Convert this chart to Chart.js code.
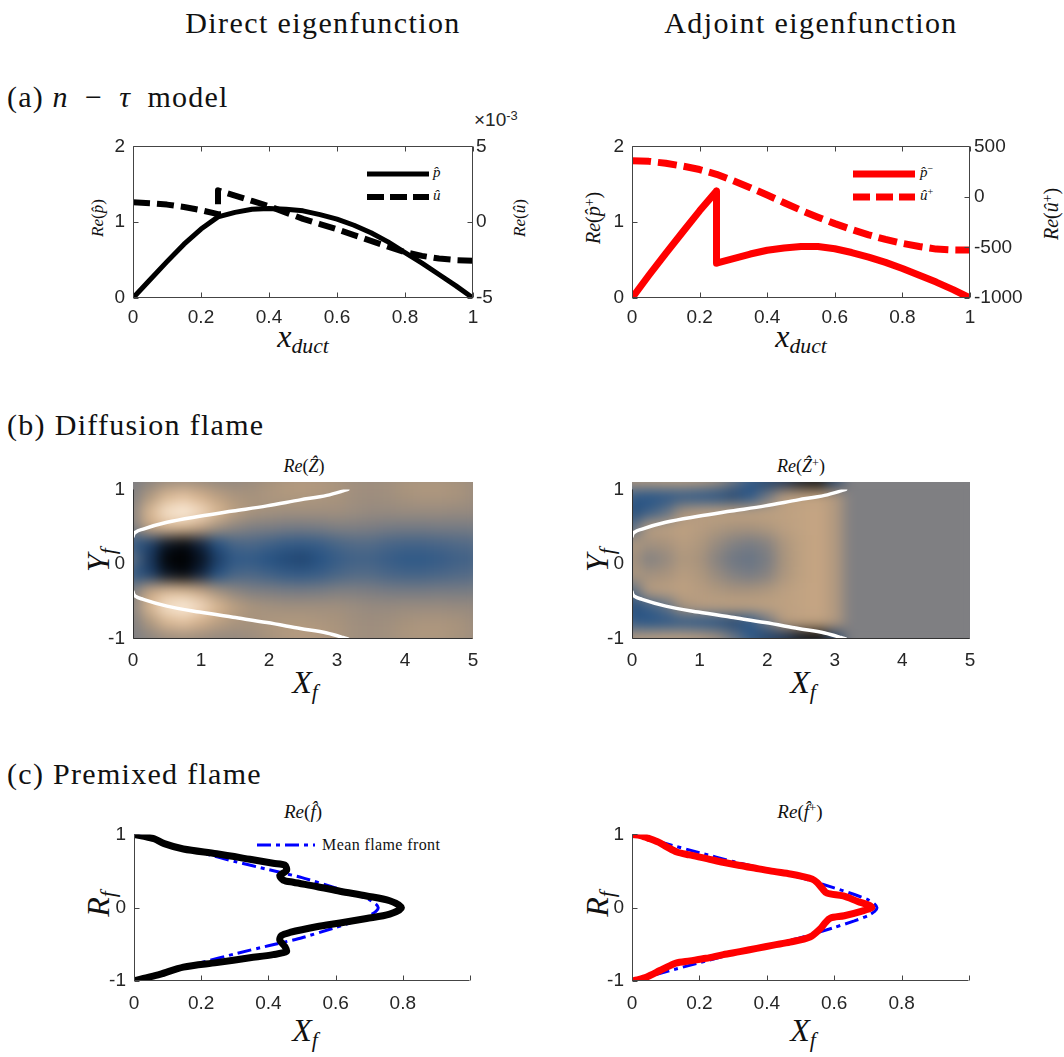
<!DOCTYPE html>
<html><head><meta charset="utf-8">
<script src="https://cdn.jsdelivr.net/npm/chart.js@4.4.0/dist/chart.umd.min.js"></script>
<style>
html,body{margin:0;padding:0;background:#fff;width:1064px;height:1057px;overflow:hidden;position:relative;}
.t{position:absolute;white-space:nowrap;font-family:'Liberation Serif','Times New Roman',serif;color:#111;line-height:1;}
.c{transform:translateX(-50%);}
.rot{transform:translate(-50%,-50%) rotate(-90deg);}
.sub{font-size:0.68em;position:relative;top:0.28em;}
.sup{font-size:0.68em;position:relative;top:-0.45em;}
canvas{position:absolute;}
.hm{position:absolute;overflow:hidden;background:rgb(127,127,130);}
.hm canvas{filter:blur(7px);}
svg{position:absolute;}
</style></head><body>

<div class="t c" style="left:323px;top:8px;font-size:30px;letter-spacing:1.4px">Direct eigenfunction</div>
<div class="t c" style="left:811px;top:8px;font-size:30px;letter-spacing:1.4px">Adjoint eigenfunction</div>
<div class="t" style="left:7px;top:82px;font-size:30px;letter-spacing:1.2px">(a) <i>n</i>&ensp;−&ensp;<i>τ</i>&ensp;model</div>
<div class="t" style="left:7px;top:410px;font-size:30px;letter-spacing:1.3px">(b) Diffusion flame</div>
<div class="t" style="left:7px;top:759px;font-size:30px;letter-spacing:1.3px">(c) Premixed flame</div>

<!-- panel (a) labels -->
<div class="t rot" style="left:97px;top:218px;font-size:17px"><i>Re</i>(<i>p̂</i>)</div>
<div class="t rot" style="left:519px;top:218px;font-size:17px"><i>Re</i>(<i>û</i>)</div>
<div class="t" style="left:474px;top:110px;font-size:19px;font-family:'Liberation Sans',Arial,sans-serif;color:#262626">×10<span class="sup">-3</span></div>
<div class="t c" style="left:303px;top:320px;font-size:32px"><i>x</i><span class="sub"><i>duct</i></span></div>
<div class="t rot" style="left:593px;top:218px;font-size:20px"><i>Re</i>(<i>p̂</i><span class="sup">+</span>)</div>
<div class="t rot" style="left:1051px;top:214px;font-size:20px"><i>Re</i>(<i>û</i><span class="sup">+</span>)</div>
<div class="t c" style="left:801px;top:320px;font-size:32px"><i>x</i><span class="sub"><i>duct</i></span></div>
<div class="t" style="left:433px;top:165px;font-size:15px"><i>p̂</i></div>
<div class="t" style="left:433px;top:188px;font-size:15px"><i>û</i></div>
<div class="t" style="left:920px;top:165px;font-size:15px"><i>p̂</i><span class="sup">−</span></div>
<div class="t" style="left:920px;top:188px;font-size:15px"><i>û</i><span class="sup">+</span></div>
<svg style="left:365px;top:165px" width="68" height="40"><line x1="2" y1="9" x2="64" y2="9" stroke="#000" stroke-width="5"/><line x1="2" y1="32" x2="64" y2="32" stroke="#000" stroke-width="6" stroke-dasharray="17 6"/></svg>
<svg style="left:851px;top:165px" width="68" height="40"><line x1="2" y1="9" x2="64" y2="9" stroke="#f00" stroke-width="7"/><line x1="2" y1="32" x2="64" y2="32" stroke="#f00" stroke-width="7" stroke-dasharray="17 6"/></svg>

<!-- panel (b) labels -->
<div class="t c" style="left:304px;top:457px;font-size:18px"><i>Re</i>(<i>Ẑ</i>)</div>
<div class="t c" style="left:801px;top:457px;font-size:18px"><i>Re</i>(<i>Ẑ</i><span class="sup">+</span>)</div>
<div class="t rot" style="left:98px;top:560px;font-size:32px"><i>Y</i><span class="sub"><i>f</i></span></div>
<div class="t rot" style="left:597px;top:560px;font-size:32px"><i>Y</i><span class="sub"><i>f</i></span></div>
<div class="t c" style="left:305px;top:666px;font-size:32px"><i>X</i><span class="sub"><i>f</i></span></div>
<div class="t c" style="left:803px;top:666px;font-size:32px"><i>X</i><span class="sub"><i>f</i></span></div>

<!-- panel (c) labels -->
<div class="t c" style="left:303px;top:802px;font-size:19px"><i>Re</i>(<i>f̂</i>)</div>
<div class="t c" style="left:800px;top:802px;font-size:19px"><i>Re</i>(<i>f̂</i><span class="sup">+</span>)</div>
<div class="t rot" style="left:98px;top:904px;font-size:32px"><i>R</i><span class="sub"><i>f</i></span></div>
<div class="t rot" style="left:597px;top:904px;font-size:32px"><i>R</i><span class="sub"><i>f</i></span></div>
<div class="t c" style="left:305px;top:1014px;font-size:32px"><i>X</i><span class="sub"><i>f</i></span></div>
<div class="t c" style="left:803px;top:1014px;font-size:32px"><i>X</i><span class="sub"><i>f</i></span></div>
<div class="t" style="left:322px;top:837px;font-size:16px;letter-spacing:0.4px">Mean flame front</div>
<svg style="left:255px;top:839px" width="62" height="12"><line x1="2" y1="6" x2="60" y2="6" stroke="#00f" stroke-width="3" stroke-dasharray="14 5 4 5"/></svg>

<script>
// ================= DATA =================
// (a) n - tau model
const xDuct     = [0,0.05,0.1,0.15,0.2,0.25,0.3,0.35,0.4,0.45,0.5,0.55,0.6,0.65,0.7,0.75,0.8,0.85,0.9,0.95,1];
const pHat      = [0,0.24,0.48,0.71,0.91,1.07,1.13,1.17,1.18,1.17,1.15,1.10,1.04,0.96,0.86,0.74,0.60,0.46,0.31,0.16,0];
const xDuctJump = [0,0.05,0.1,0.15,0.2,0.25,0.25,0.3,0.35,0.4,0.45,0.5,0.55,0.6,0.65,0.7,0.75,0.8,0.85,0.9,0.95,1];
const uHat      = [1.31,1.25,1.16,1.00,0.79,0.53,2.10,1.75,1.40,1.06,0.63,0.22,-0.12,-0.47,-0.85,-1.23,-1.62,-1.98,-2.22,-2.40,-2.50,-2.55]; // x 10^-3
const pAdj      = [0,0.30,0.59,0.87,1.15,1.41,0.46,0.52,0.58,0.63,0.66,0.68,0.68,0.65,0.60,0.54,0.47,0.39,0.30,0.21,0.11,0];
const uAdj      = [358,352,333,305,271,224,160,92,19,-57,-132,-200,-264,-322,-375,-420,-460,-490,-516,-524,-526];
const ticksDuct = [0,0.2,0.4,0.6,0.8,1];
const labelsDuct= ['0','0.2','0.4','0.6','0.8','1'];
const ticksP    = [0,1,2];
const labelsP   = ['0','1','2'];
const ticksU    = [-5,0,5];
const labelsU   = ['-5','0','5'];
const ticksUAdj = [-1000,-500,0,500];
const labelsUAdj= ['-1000','-500','0','500'];

// (b) diffusion flame
const xfGrid = [0,0.25,0.5,0.75,1,1.25,1.5,1.75,2,2.25,2.5,2.75,3,3.25,3.5,3.75,4,4.25,4.5,4.75,5];
const yfGrid = [1,0.8,0.6,0.4,0.2,0,-0.2,-0.4,-0.6,-0.8,-1];
const zDirect = [
 [0.00,0.08,0.18,0.22,0.18,0.14,0.14,0.18,0.25,0.32,0.35,0.33,0.28,0.22,0.20,0.22,0.28,0.30,0.30,0.26,0.22],
 [0.02,0.30,0.60,0.68,0.55,0.38,0.27,0.24,0.28,0.30,0.30,0.28,0.25,0.20,0.18,0.20,0.24,0.27,0.27,0.25,0.20],
 [0.08,0.60,0.90,0.98,0.85,0.60,0.38,0.26,0.22,0.20,0.20,0.20,0.20,0.17,0.14,0.14,0.15,0.15,0.15,0.14,0.14],
 [0.02,0.45,0.62,0.60,0.45,0.22,0.08,0.00,-0.02,-0.05,-0.06,-0.04,0.00,0.00,-0.02,-0.05,-0.06,-0.06,-0.05,-0.05,-0.04],
 [-0.45,-0.62,-0.88,-0.95,-0.80,-0.52,-0.32,-0.30,-0.36,-0.42,-0.44,-0.40,-0.32,-0.26,-0.26,-0.31,-0.34,-0.34,-0.31,-0.28,-0.25],
 [-0.20,-0.68,-0.98,-1.00,-0.90,-0.64,-0.46,-0.45,-0.52,-0.57,-0.60,-0.52,-0.42,-0.36,-0.36,-0.41,-0.46,-0.46,-0.43,-0.38,-0.35],
 [-0.45,-0.62,-0.88,-0.95,-0.80,-0.52,-0.32,-0.30,-0.36,-0.42,-0.44,-0.40,-0.32,-0.26,-0.26,-0.31,-0.34,-0.34,-0.31,-0.28,-0.25],
 [0.02,0.45,0.62,0.60,0.45,0.22,0.08,0.00,-0.02,-0.05,-0.06,-0.04,0.00,0.00,-0.02,-0.05,-0.06,-0.06,-0.05,-0.05,-0.04],
 [0.08,0.60,0.90,0.98,0.85,0.60,0.38,0.26,0.22,0.20,0.20,0.20,0.20,0.17,0.14,0.14,0.15,0.15,0.15,0.14,0.14],
 [0.02,0.30,0.60,0.68,0.55,0.38,0.27,0.24,0.28,0.30,0.30,0.28,0.25,0.20,0.18,0.20,0.24,0.27,0.27,0.25,0.20],
 [0.00,0.08,0.18,0.22,0.18,0.14,0.14,0.18,0.25,0.32,0.35,0.33,0.28,0.22,0.20,0.22,0.28,0.30,0.30,0.26,0.22]
];
const zAdjoint = [
 [0.35,0.38,0.40,0.40,0.35,0.22,-0.10,-0.45,-0.62,-0.75,-0.92,-1.00,-0.65,0,0,0,0,0,0,0,0],
 [-0.45,-0.50,-0.48,-0.45,-0.48,-0.52,-0.58,-0.50,-0.10,0.35,0.40,0.42,0.32,0,0,0,0,0,0,0,0],
 [-0.55,-0.40,-0.20,0.25,0.35,0.38,0.40,0.40,0.40,0.40,0.42,0.45,0.32,0,0,0,0,0,0,0,0],
 [-0.25,0.35,0.38,0.40,0.35,0.30,0.25,0.25,0.30,0.38,0.42,0.45,0.32,0,0,0,0,0,0,0,0],
 [0.30,0.22,0.25,0.35,0.30,0.15,0.02,-0.04,0.04,0.28,0.40,0.45,0.32,0,0,0,0,0,0,0,0],
 [0.25,0.02,0.12,0.30,0.25,0.05,-0.10,-0.14,-0.04,0.25,0.40,0.45,0.32,0,0,0,0,0,0,0,0],
 [0.30,0.22,0.25,0.35,0.30,0.15,0.02,-0.04,0.04,0.28,0.40,0.45,0.32,0,0,0,0,0,0,0,0],
 [-0.25,0.35,0.38,0.40,0.35,0.30,0.25,0.25,0.30,0.38,0.42,0.45,0.32,0,0,0,0,0,0,0,0],
 [-0.55,-0.40,-0.20,0.25,0.35,0.38,0.40,0.40,0.40,0.40,0.42,0.45,0.32,0,0,0,0,0,0,0,0],
 [-0.45,-0.50,-0.48,-0.45,-0.48,-0.52,-0.58,-0.50,-0.10,0.35,0.40,0.42,0.32,0,0,0,0,0,0,0,0],
 [0.35,0.38,0.40,0.40,0.35,0.22,-0.10,-0.45,-0.62,-0.75,-0.92,-1.00,-0.65,0,0,0,0,0,0,0,0]
];
const frontX     = [0,0.01,0.04,0.15,0.5,0.98,1.47,1.97,2.46,2.85,3.09,3.16];
const frontYUp   = [0.37,0.40,0.43,0.47,0.56,0.64,0.71,0.78,0.86,0.92,0.98,1.0];
const frontYDown = [-0.37,-0.40,-0.43,-0.47,-0.56,-0.64,-0.71,-0.78,-0.86,-0.92,-0.98,-1.0];
const ticksXf = [0,1,2,3,4,5];
const labelsXf = ['0','1','2','3','4','5'];
const ticksYf = [-1,0,1];
const labelsYf = ['-1','0','1'];

// (c) premixed flame
const meanX = [0,0.1,0.2,0.3,0.4,0.5,0.6,0.66,0.7,0.72,0.727,0.72,0.7,0.66,0.6,0.5,0.4,0.3,0.2,0.1,0];
const meanY = [1,0.875,0.75,0.63,0.52,0.41,0.27,0.18,0.11,0.05,0,-0.05,-0.11,-0.18,-0.27,-0.41,-0.52,-0.63,-0.75,-0.875,-1];
const fDirX = [0,0.03,0.06,0.09,0.147,0.246,0.345,0.414,0.449,0.454,0.434,0.444,0.474,0.543,0.613,0.692,0.761,0.796,
               0.761,0.692,0.613,0.543,0.464,0.439,0.434,0.449,0.454,0.414,0.345,0.246,0.147,0.077,0.028,0];
const fDirY = [1,0.975,0.94,0.874,0.80,0.735,0.66,0.606,0.58,0.507,0.44,0.377,0.347,0.29,0.225,0.16,0.095,0,
               -0.087,-0.147,-0.208,-0.26,-0.338,-0.38,-0.445,-0.53,-0.597,-0.64,-0.684,-0.749,-0.81,-0.91,-0.965,-1];
const fAdjX = [0,0.025,0.053,0.08,0.103,0.133,0.17,0.222,0.27,0.32,0.37,0.42,0.47,0.508,0.535,0.55,0.565,0.578,0.627,0.67,0.705,0.711,
               0.68,0.63,0.588,0.573,0.558,0.528,0.469,0.42,0.37,0.32,0.271,0.22,0.172,0.13,0.113,0.083,0.044,0.015,0];
const fAdjY = [1,0.985,0.94,0.89,0.83,0.76,0.72,0.67,0.62,0.575,0.535,0.495,0.46,0.425,0.39,0.34,0.26,0.20,0.16,0.085,0.03,0,
               -0.05,-0.11,-0.143,-0.208,-0.29,-0.40,-0.47,-0.51,-0.555,-0.60,-0.64,-0.69,-0.725,-0.755,-0.79,-0.857,-0.944,-0.985,-1];
const ticksXc = [0,0.2,0.4,0.6,0.8,1];
const labelsXc = ['0','0.2','0.4','0.6','0.8',''];

// ================= HELPERS =================
const cmapStops = [
 [-1,[0,0,0]],[-0.75,[20,45,80]],[-0.5,[40,85,135]],[-0.25,[85,108,135]],[0,[127,127,130]],
 [0.25,[168,147,125]],[0.5,[205,170,132]],[0.75,[235,202,168]],[1,[252,240,225]]
];
function cmap(v){
  v = Math.max(-1, Math.min(1, v));
  for (let k=0;k<cmapStops.length-1;k++){
    const [a,ca]=cmapStops[k],[b,cb]=cmapStops[k+1];
    if (v>=a && v<=b){ const t=(v-a)/(b-a); return 'rgb('+ca.map((c,i)=>Math.round(c+(cb[i]-c)*t)).join(',')+')'; }
  }
  return 'rgb(127,127,130)';
}
function mkCanvas(left, top, w, h, parent){
  const c=document.createElement('canvas'); c.width=Math.round(w); c.height=Math.round(h);
  c.style.left=left+'px'; c.style.top=top+'px'; c.style.width=Math.round(w)+'px'; c.style.height=Math.round(h)+'px';
  parent.appendChild(c); return c;
}
function pts(xs, ys){ return xs.map((x,i)=>({x, y: ys[i]})); }
function line(xs, ys, color, width, dash, axis, extra){
  return Object.assign({data:pts(xs,ys), showLine:true, borderColor:color, borderWidth:width, borderDash:dash||[],
    pointRadius:0, fill:false, tension:0, yAxisID:axis||'y', borderCapStyle:'butt', borderJoinStyle:'round'}, extra||{});
}
const TICK_FONT = {family:"'Liberation Sans', Arial, Helvetica, sans-serif", size:19};
function linScale(pos, s, size){
  return {type:'linear', position:pos, min:s.min, max:s.max,
    grid:{display:false, drawTicks:false}, border:{display:false},
    afterBuildTicks: sc => { sc.ticks = s.ticks.map(v=>({value:v})); },
    afterFit: sc => { if (pos==='bottom') sc.height=size; else sc.width=size; },
    ticks:{autoSkip:false, maxRotation:0, minRotation:0, padding:s.pad, color:'#262626', font:TICK_FONT,
      callback: v => { const i=s.ticks.indexOf(v); return i<0 ? '' : s.labels[i]; }}};
}
const matFrame = {
  id:'matFrame',
  afterDraw(chart, args, o){
    if (!o || !o.on) return;
    const {ctx, chartArea:a} = chart;
    ctx.save(); ctx.strokeStyle=o.color||'#333'; ctx.lineWidth=1; ctx.beginPath();
    const l=Math.round(a.left)+0.5, r=Math.round(a.right)-0.5, t=Math.round(a.top)+0.5, b=Math.round(a.bottom)-0.5;
    ctx.moveTo(l,t); ctx.lineTo(l,b); ctx.lineTo(r,b);
    if (o.box){ ctx.lineTo(r,t); ctx.lineTo(l,t); }
    const tl=o.tick||0;
    if (tl>0){
      for (const id of Object.keys(chart.scales)){
        const s=chart.scales[id];
        for (const tk of s.ticks){
          const p=Math.round(s.getPixelForValue(tk.value))+0.5;
          if (s.isHorizontal()){
            ctx.moveTo(p,b); ctx.lineTo(p,b-tl);
            if (o.box){ ctx.moveTo(p,t); ctx.lineTo(p,t+tl); }
          } else if (s.position==='left'){
            ctx.moveTo(l,p); ctx.lineTo(l+tl,p);
            if (o.box && !o.hasRight){ ctx.moveTo(r,p); ctx.lineTo(r-tl,p); }
          } else { ctx.moveTo(r,p); ctx.lineTo(r-tl,p); }
        }
      }
    }
    ctx.stroke(); ctx.restore();
  }
};
Chart.register(matFrame);

function axesChart(p, datasets, sc, frame){
  const L=60, R=70, T=12, B=46;
  const cv = mkCanvas(p.x-L, p.y-T, p.w+L+R, p.h+T+B, document.body);
  const scales = { x: linScale('bottom', sc.x, B), y: linScale('left', sc.y, L) };
  if (sc.y2) scales.y2 = linScale('right', sc.y2, R);
  return new Chart(cv, {type:'scatter', data:{datasets},
    options:{responsive:false, animation:false, events:[],
      layout:{padding:{top:T, right: sc.y2?0:R, left:0, bottom:0}},
      plugins:{legend:{display:false}, tooltip:{enabled:false}, matFrame:frame}, scales}});
}
function heatmap(p, grid, xs, ys, dx, dy){
  const cw=p.w/5*dx, ch=p.h/2*dy;
  const box=document.createElement('div'); box.className='hm';
  box.style.left=p.x+'px'; box.style.top=p.y+'px'; box.style.width=p.w+'px'; box.style.height=p.h+'px';
  document.body.appendChild(box);
  const cv = mkCanvas(-cw/2, -ch/2, p.w+cw, p.h+ch, box);
  const data=[];
  ys.forEach((y,j)=>xs.forEach((x,i)=>data.push({x, y, v:grid[j][i]})));
  new Chart(cv, {type:'scatter', data:{datasets:[{data, pointStyle:'rect', pointBorderWidth:0, borderWidth:0,
      pointBackgroundColor: c => cmap(c.raw ? c.raw.v : 0),
      pointRadius: c => { const ch2=c.chart; const sx=ch2.scales.x, sy=ch2.scales.y;
        const w=Math.abs(sx.getPixelForValue(dx)-sx.getPixelForValue(0)); const h=Math.abs(sy.getPixelForValue(dy)-sy.getPixelForValue(0));
        return (Math.max(w,h)+1.5)/Math.SQRT2; }, clip:false}]},
    options:{responsive:false, animation:false, events:[], layout:{padding:0},
      plugins:{legend:{display:false}, tooltip:{enabled:false}},
      scales:{x:{type:'linear', display:false, min:-dx/2, max:5+dx/2}, y:{type:'linear', display:false, min:-1-dy/2, max:1+dy/2}}}});
}

// ================= PANELS =================
const P = {
  a1:{x:133,y:139,w:340,h:159}, a2:{x:632,y:139,w:338,h:159},
  b1:{x:133,y:482,w:340,h:157}, b2:{x:632,y:482,w:338,h:157},
  c1:{x:134,y:827,w:336,h:154}, c2:{x:632,y:827,w:337,h:154}
};
const sxDuct = {min:0,max:1,ticks:ticksDuct,labels:labelsDuct,pad:8};
const syP = {min:0,max:2,ticks:ticksP,labels:labelsP,pad:8};

// (a)
axesChart(P.a1, [
  line(xDuct, pHat, '#000', 5),
  line(xDuctJump, uHat, '#000', 6, [17,7], 'y2')
], {x:sxDuct, y:syP, y2:{min:-5,max:5,ticks:ticksU,labels:labelsU,pad:3}}, {on:true, box:true, hasRight:true, tick:5, color:'#444'});

axesChart(P.a2, [
  line(xDuctJump, pAdj, '#f00', 7),
  line(xDuct, uAdj, '#f00', 7, [19,7], 'y2')
], {x:sxDuct, y:syP, y2:{min:-1000,max:500,ticks:ticksUAdj,labels:labelsUAdj,pad:4}}, {on:true, box:true, hasRight:true, tick:5, color:'#444'});

// (b)
heatmap(P.b1, zDirect, xfGrid, yfGrid, 0.25, 0.2);
heatmap(P.b2, zAdjoint, xfGrid, yfGrid, 0.25, 0.2);
const sxF = {min:0,max:5,ticks:ticksXf,labels:labelsXf,pad:10};
const syF = {min:-1,max:1,ticks:ticksYf,labels:labelsYf,pad:8};
const whiteOpt = {cubicInterpolationMode:'monotone', borderCapStyle:'round'};
axesChart(P.b1, [
  line(frontX, frontYUp, '#fff', 3.5, null, 'y', whiteOpt),
  line(frontX, frontYDown, '#fff', 3.5, null, 'y', whiteOpt)
], {x:sxF, y:syF}, {on:true, box:false, tick:0, color:'#333'});
axesChart(P.b2, [
  line(frontX, frontYUp, '#fff', 3.5, null, 'y', whiteOpt),
  line(frontX, frontYDown, '#fff', 3.5, null, 'y', whiteOpt)
], {x:sxF, y:syF}, {on:true, box:false, tick:0, color:'#333'});

// (c)
const sxC = {min:0,max:1,ticks:ticksXc,labels:labelsXc,pad:11};
const syC = {min:-1,max:1,ticks:ticksYf,labels:labelsYf,pad:8};
axesChart(P.c1, [
  line(fDirX, fDirY, '#000', 7, null, 'y', {tension:0.3}),
  line(meanX, meanY, '#00f', 3, [14,5,4,5], 'y', {tension:0.2})
], {x:sxC, y:syC}, {on:true, box:false, tick:5, color:'#444'});
axesChart(P.c2, [
  line(fAdjX, fAdjY, '#f00', 7, null, 'y', {tension:0.3}),
  line(meanX, meanY, '#00f', 3, [14,5,4,5], 'y', {tension:0.2})
], {x:sxC, y:syC}, {on:true, box:false, tick:5, color:'#444'});
</script>
</body></html>
